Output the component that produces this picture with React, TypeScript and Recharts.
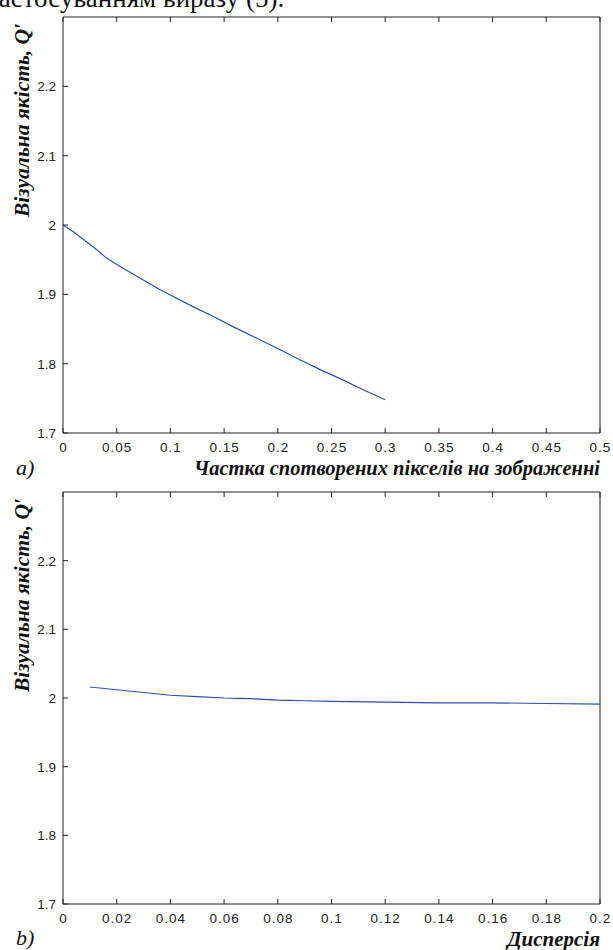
import { LineChart, Line, XAxis, YAxis } from 'recharts';

// (a) частка спотворених пікселів
const shareX = [0, 0.01, 0.02, 0.03, 0.04, 0.05, 0.06, 0.07, 0.08, 0.09, 0.1, 0.12, 0.14, 0.16, 0.18, 0.2, 0.22, 0.24, 0.26, 0.28, 0.3];
const shareQ = [2.0, 1.99, 1.978, 1.966, 1.953, 1.943, 1.934, 1.925, 1.916, 1.907, 1.899, 1.883, 1.868, 1.852, 1.837, 1.822, 1.806, 1.791, 1.777, 1.762, 1.748];

// (b) дисперсія
const dispX = [0.01, 0.02, 0.03, 0.04, 0.05, 0.06, 0.07, 0.08, 0.09, 0.1, 0.12, 0.14, 0.16, 0.18, 0.2];
const dispQ = [2.016, 2.012, 2.008, 2.004, 2.002, 2.0, 1.999, 1.997, 1.996, 1.995, 1.994, 1.993, 1.993, 1.992, 1.991];

const shareTicks = [0, 0.05, 0.1, 0.15, 0.2, 0.25, 0.3, 0.35, 0.4, 0.45, 0.5];
const dispTicks = [0, 0.02, 0.04, 0.06, 0.08, 0.1, 0.12, 0.14, 0.16, 0.18, 0.2];
const qTicks = [1.7, 1.8, 1.9, 2, 2.1, 2.2];

const yLabel = 'Візуальна якість, Q′';
const xLabelA = 'Частка спотворених пікселів на зображенні';
const xLabelB = 'Дисперсія';

const INK = '#222';
const LINE = '#2d4db5';
const tickFont = '"Liberation Sans", Arial, sans-serif';
const serif = '"Liberation Serif", "Times New Roman", serif';

const BottomTick = ({ x, y, payload }: any) => (
  <g>
    <line x1={x} x2={x} y1={y} y2={y - 5} stroke={INK} />
    <text x={x + 0.5} y={y + 19} textAnchor="middle" fontFamily={tickFont} fontSize={13.5}
      letterSpacing={1} fill={INK}>
      {String(payload.value)}
    </text>
  </g>
);

const TopTick = ({ x, y }: any) => <line x1={x} x2={x} y1={y} y2={y + 5} stroke={INK} />;

const LeftTick = ({ x, y, payload }: any) => (
  <g>
    <line x1={x} x2={x + 5} y1={y} y2={y} stroke={INK} />
    <text x={x - 7} y={y + 5} textAnchor="end" fontFamily={tickFont} fontSize={13.5} fill={INK}>
      {String(payload.value)}
    </text>
  </g>
);

const RightTick = ({ x, y }: any) => <line x1={x} x2={x - 5} y1={y} y2={y} stroke={INK} />;

function Panel({ xs, ys, xMax, xTicks, margin }: any) {
  const data = xs.map((x: number, i: number) => ({ x, q: ys[i] }));
  return (
    <LineChart width={613} height={475} data={data} margin={margin}>
      <XAxis xAxisId="b" dataKey="x" type="number" domain={[0, xMax]} ticks={xTicks} orientation="bottom"
        height={1} tickSize={0} tickMargin={0} tickLine={false} tick={<BottomTick />} stroke={INK} interval={0} />
      <XAxis xAxisId="t" dataKey="x" type="number" domain={[0, xMax]} ticks={xTicks} orientation="top"
        height={1} tickSize={0} tickMargin={0} tickLine={false} tick={<TopTick />} stroke={INK} interval={0} />
      <YAxis yAxisId="l" type="number" domain={[1.7, 2.3]} ticks={qTicks} orientation="left"
        width={1} tickSize={0} tickMargin={0} tickLine={false} tick={<LeftTick />} stroke={INK} interval={0} />
      <YAxis yAxisId="r" type="number" domain={[1.7, 2.3]} ticks={qTicks} orientation="right"
        width={1} tickSize={0} tickMargin={0} tickLine={false} tick={<RightTick />} stroke={INK} interval={0} />
      <Line xAxisId="b" yAxisId="l" type="linear" dataKey="q" stroke={LINE} strokeWidth={1.2}
        dot={false} isAnimationActive={false} />
    </LineChart>
  );
}

const abs = (left: number, top: number, extra: any = {}) => ({
  position: 'absolute' as const, left, top, whiteSpace: 'nowrap' as const, lineHeight: 1, ...extra,
});

const yLabelStyle = (top: number) => ({
  position: 'absolute' as const, left: 10, top, transform: 'rotate(-90deg)', transformOrigin: '0 0',
  whiteSpace: 'nowrap' as const, fontFamily: serif, fontWeight: 'bold', fontStyle: 'italic',
  fontSize: 21.5, color: '#111', lineHeight: '24px',
});

const xLabelStyle = (top: number, size: number) => ({
  position: 'absolute' as const, right: 13, top, whiteSpace: 'nowrap' as const, lineHeight: 1,
  fontFamily: serif, fontWeight: 'bold', fontStyle: 'italic', fontSize: size, color: '#111',
});

export default function App() {
  return (
    <div style={{ position: 'absolute', left: 0, top: 0, width: 613, height: 950, overflow: 'hidden', background: '#fff' }}>
      <div style={abs(-12, -15, { fontFamily: serif, fontSize: 27, color: '#111' })}>застосуванням виразу (5).</div>

      <div style={abs(0, 0)}>
        <Panel xs={shareX} ys={shareQ} xMax={0.5} xTicks={shareTicks} margin={{ top: 16, right: 12, left: 62, bottom: 41 }} />
      </div>
      <div style={abs(0, 475)}>
        <Panel xs={dispX} ys={dispQ} xMax={0.2} xTicks={dispTicks} margin={{ top: 16, right: 12, left: 62, bottom: 45 }} />
      </div>

      <div style={yLabelStyle(217)}>{yLabel}</div>
      <div style={yLabelStyle(692)}>{yLabel}</div>

      <div style={abs(16, 457, { fontFamily: serif, fontStyle: 'italic', fontSize: 22, color: '#111' })}>a)</div>
      <div style={abs(16, 927, { fontFamily: serif, fontStyle: 'italic', fontSize: 22, color: '#111' })}>b)</div>

      <div style={xLabelStyle(458, 20.5)}>{xLabelA}</div>
      <div style={xLabelStyle(929, 21)}>{xLabelB}</div>
    </div>
  );
}
